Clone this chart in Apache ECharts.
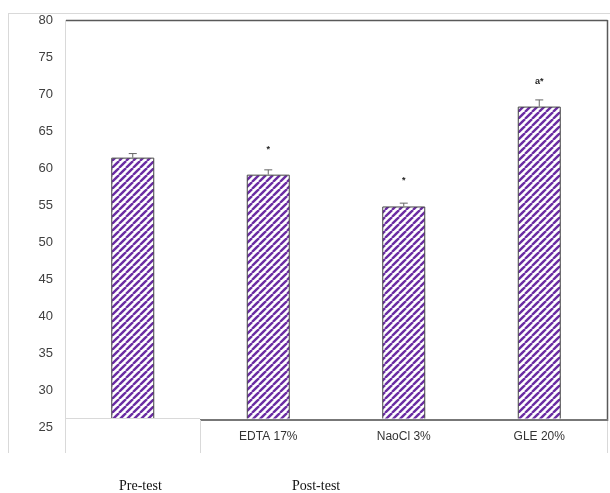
<!DOCTYPE html>
<html>
<head>
<meta charset="utf-8">
<script src="https://cdn.jsdelivr.net/npm/echarts@6/dist/echarts.min.js"></script>
<style>
  html, body { margin: 0; padding: 0; background: #fff; }
  #chart { width: 610px; height: 493px; }
</style>
</head>
<body>
<div id="chart"></div>
<script>
// Groups and measured means with their upper error (SE)
const groups = ['Pre-test', 'EDTA 17%', 'NaoCl 3%', 'GLE 20%'];
const means = [61.4, 59.1, 54.8, 68.3];
const errors = [0.55, 0.65, 0.45, 0.9];
const marks = ['', '*', '*', 'a*'];
const phaseLabels = ['Pre-test', 'Post-test'];
const yMin = 25, yMax = 80, yStep = 5;

// Hatched fill: purple diagonal stripes on white
const tile = document.createElement('canvas');
tile.width = 7; tile.height = 7;
const tc = tile.getContext('2d');
tc.fillStyle = '#ffffff';
tc.fillRect(0, 0, 7, 7);
tc.strokeStyle = '#6a2ca2';
tc.lineWidth = 2.4;
[-7, 0, 7].forEach(k => {
  tc.beginPath();
  tc.moveTo(k, 7);
  tc.lineTo(k + 7, 0);
  tc.stroke();
});

const chart = echarts.init(document.getElementById('chart'), null, { renderer: 'canvas' });

const lineStyleLight = { stroke: '#d9d9d9', lineWidth: 1 };
const lineStyleDark = { stroke: '#595959', lineWidth: 1.5 };

chart.setOption({
  animation: false,
  backgroundColor: '#fff',
  grid: { left: 65, right: 3, top: 20, bottom: 66, containLabel: false },
  xAxis: {
    type: 'category',
    data: groups,
    z: 20,
    axisLine: { show: false },
    axisTick: { show: false },
    axisLabel: {
      margin: 4,
      fontSize: 12,
      fontFamily: 'Liberation Sans, Arial, sans-serif',
      color: '#333',
      formatter: (v, i) => (i === 0 ? '' : v)
    }
  },
  yAxis: {
    type: 'value',
    min: yMin,
    max: yMax,
    interval: yStep,
    axisLine: { show: false },
    axisTick: { show: false },
    splitLine: { show: false },
    axisLabel: {
      margin: 12,
      fontSize: 13,
      fontFamily: 'Liberation Sans, Arial, sans-serif',
      color: '#404040'
    }
  },
  series: [
    {
      type: 'bar',
      data: means,
      barWidth: 43,
      z: 2,
      itemStyle: {
        color: { image: tile, repeat: 'repeat' },
        borderColor: '#444',
        borderWidth: 1
      },
      label: {
        show: true,
        position: 'top',
        distance: 21,
        fontSize: 9,
        fontWeight: 'bold',
        fontFamily: 'Liberation Sans, Arial, sans-serif',
        color: '#222',
        formatter: p => marks[p.dataIndex]
      }
    },
    {
      type: 'custom',
      z: 3,
      data: means.map((m, i) => [i, m, m + errors[i]]),
      renderItem: (params, api) => {
        const base = api.coord([api.value(0), api.value(1)]);
        const top = api.coord([api.value(0), api.value(2)]);
        const half = 4;
        const st = { stroke: '#666', lineWidth: 1 };
        return {
          type: 'group',
          children: [
            { type: 'line', shape: { x1: base[0], y1: base[1], x2: top[0], y2: top[1] }, style: st },
            { type: 'line', shape: { x1: top[0] - half, y1: top[1], x2: top[0] + half, y2: top[1] }, style: st }
          ]
        };
      }
    }
  ],
  graphic: [
    // table row below the bars
    { type: 'rect', z: 10, shape: { x: 66, y: 418.5, width: 541, height: 10 }, style: { fill: '#fff' } },
    // outer frame
    { type: 'line', z: 11, shape: { x1: 8, y1: 13.5, x2: 610, y2: 13.5 }, style: lineStyleLight },
    { type: 'line', z: 11, shape: { x1: 8.5, y1: 13, x2: 8.5, y2: 453 }, style: lineStyleLight },
    // plot area borders
    { type: 'line', z: 11, shape: { x1: 65.5, y1: 20, x2: 65.5, y2: 453 }, style: lineStyleLight },
    { type: 'line', z: 11, shape: { x1: 66, y1: 20.5, x2: 607.5, y2: 20.5 }, style: lineStyleDark },
    { type: 'line', z: 11, shape: { x1: 607.5, y1: 20, x2: 607.5, y2: 421 }, style: lineStyleDark },
    { type: 'line', z: 11, shape: { x1: 65, y1: 418.5, x2: 200, y2: 418.5 }, style: lineStyleLight },
    { type: 'line', z: 11, shape: { x1: 200, y1: 420, x2: 608, y2: 420 }, style: { stroke: '#777', lineWidth: 2 } },
    { type: 'line', z: 11, shape: { x1: 200.5, y1: 420, x2: 200.5, y2: 453 }, style: lineStyleLight },
    { type: 'line', z: 11, shape: { x1: 607.5, y1: 421, x2: 607.5, y2: 453 }, style: lineStyleLight },
    // phase captions
    {
      type: 'text', z: 11, left: 119, top: 479,
      style: { text: phaseLabels[0], font: '14px "Liberation Serif", "DejaVu Serif", serif', fill: '#111' }
    },
    {
      type: 'text', z: 11, left: 292, top: 479,
      style: { text: phaseLabels[1], font: '14px "Liberation Serif", "DejaVu Serif", serif', fill: '#111' }
    }
  ]
});
</script>
</body>
</html>
